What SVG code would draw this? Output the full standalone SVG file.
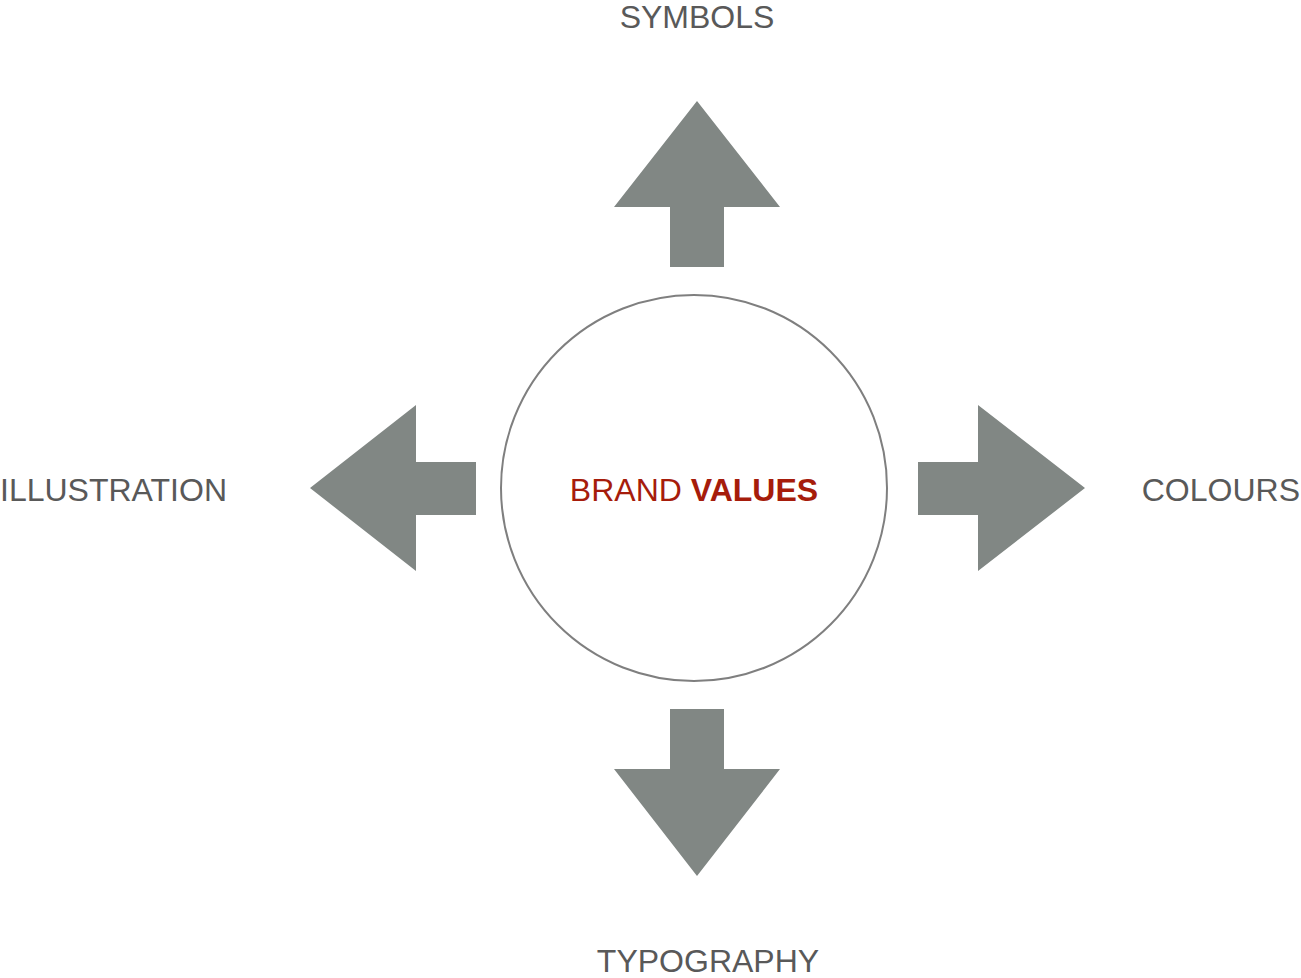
<svg xmlns="http://www.w3.org/2000/svg" width="1301" height="978" viewBox="0 0 1301 978">
  <style>
    .arrow { fill: #818784; }
    .label { font-family: "Liberation Sans", Arial, sans-serif; font-size: 32px; fill: #595959; }
    .core { font-family: "Liberation Sans", Arial, sans-serif; font-size: 32px; fill: #a61c0b; }
  </style>
  <rect width="1301" height="978" fill="#ffffff"/>

  <g id="connectors">
    <!-- up -->
    <polygon class="arrow" points="697,101 780,207 724,207 724,267 670,267 670,207 614,207"/>
    <!-- down -->
    <polygon class="arrow" points="670,709 724,709 724,769 780,769 697,876 614,769 670,769"/>
    <!-- left -->
    <polygon class="arrow" points="310,488 416,405 416,462 476,462 476,515 416,515 416,571"/>
    <!-- right -->
    <polygon class="arrow" points="918,462 978,462 978,405 1085,488 978,571 978,515 918,515"/>
  </g>

  <g id="brand-values">
    <circle cx="694" cy="488" r="193" fill="#ffffff" stroke="#7f7f7f" stroke-width="2"/>
    <text class="core" x="694" y="501" text-anchor="middle">BRAND <tspan font-weight="bold">VALUES</tspan></text>
  </g>

  <g id="symbols">
    <text class="label" x="697" y="28" text-anchor="middle">SYMBOLS</text>
  </g>
  <g id="typography">
    <text class="label" x="708" y="972" text-anchor="middle">TYPOGRAPHY</text>
  </g>
  <g id="illustration">
    <text class="label" x="0" y="501">ILLUSTRATION</text>
  </g>
  <g id="colours">
    <text class="label" x="1300" y="501" text-anchor="end">COLOURS</text>
  </g>
</svg>
